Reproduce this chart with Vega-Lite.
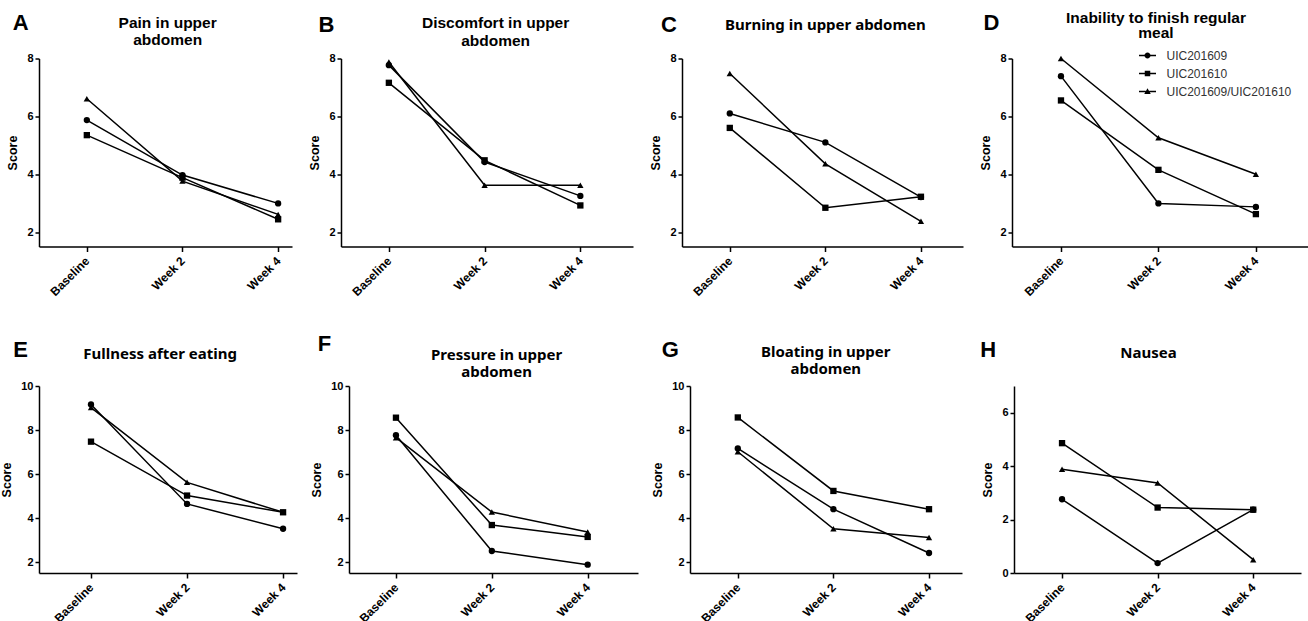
{
  "$schema": "https://vega.github.io/schema/vega-lite/v6.json",
  "padding": {"left": 0, "top": 10.5, "right": 0, "bottom": 0},
  "spacing": 33.5,
  "datasets": {
    "scores": [
      {"panel": "A", "series": "UIC201609", "week": 0, "score": 5.87},
      {"panel": "A", "series": "UIC201609", "week": 2, "score": 3.97},
      {"panel": "A", "series": "UIC201609", "week": 4, "score": 2.99},
      {"panel": "A", "series": "UIC201610", "week": 0, "score": 5.35},
      {"panel": "A", "series": "UIC201610", "week": 2, "score": 3.88},
      {"panel": "A", "series": "UIC201610", "week": 4, "score": 2.44},
      {"panel": "A", "series": "UIC201609/UIC201610", "week": 0, "score": 6.61},
      {"panel": "A", "series": "UIC201609/UIC201610", "week": 2, "score": 3.76},
      {"panel": "A", "series": "UIC201609/UIC201610", "week": 4, "score": 2.61},
      {"panel": "B", "series": "UIC201609", "week": 0, "score": 7.77},
      {"panel": "B", "series": "UIC201609", "week": 2, "score": 4.42},
      {"panel": "B", "series": "UIC201609", "week": 4, "score": 3.25},
      {"panel": "B", "series": "UIC201610", "week": 0, "score": 7.16},
      {"panel": "B", "series": "UIC201610", "week": 2, "score": 4.48},
      {"panel": "B", "series": "UIC201610", "week": 4, "score": 2.92},
      {"panel": "B", "series": "UIC201609/UIC201610", "week": 0, "score": 7.88},
      {"panel": "B", "series": "UIC201609/UIC201610", "week": 2, "score": 3.62},
      {"panel": "B", "series": "UIC201609/UIC201610", "week": 4, "score": 3.62},
      {"panel": "C", "series": "UIC201609", "week": 0, "score": 6.10},
      {"panel": "C", "series": "UIC201609", "week": 2, "score": 5.10},
      {"panel": "C", "series": "UIC201609", "week": 4, "score": 3.21},
      {"panel": "C", "series": "UIC201610", "week": 0, "score": 5.60},
      {"panel": "C", "series": "UIC201610", "week": 2, "score": 2.84},
      {"panel": "C", "series": "UIC201610", "week": 4, "score": 3.22},
      {"panel": "C", "series": "UIC201609/UIC201610", "week": 0, "score": 7.48},
      {"panel": "C", "series": "UIC201609/UIC201610", "week": 2, "score": 4.36},
      {"panel": "C", "series": "UIC201609/UIC201610", "week": 4, "score": 2.37},
      {"panel": "D", "series": "UIC201609", "week": 0, "score": 7.39},
      {"panel": "D", "series": "UIC201609", "week": 2, "score": 2.99},
      {"panel": "D", "series": "UIC201609", "week": 4, "score": 2.87},
      {"panel": "D", "series": "UIC201610", "week": 0, "score": 6.55},
      {"panel": "D", "series": "UIC201610", "week": 2, "score": 4.15},
      {"panel": "D", "series": "UIC201610", "week": 4, "score": 2.62},
      {"panel": "D", "series": "UIC201609/UIC201610", "week": 0, "score": 8.0},
      {"panel": "D", "series": "UIC201609/UIC201610", "week": 2, "score": 5.26},
      {"panel": "D", "series": "UIC201609/UIC201610", "week": 4, "score": 4.0},
      {"panel": "E", "series": "UIC201609", "week": 0, "score": 9.16},
      {"panel": "E", "series": "UIC201609", "week": 2, "score": 4.64},
      {"panel": "E", "series": "UIC201609", "week": 4, "score": 3.51},
      {"panel": "E", "series": "UIC201610", "week": 0, "score": 7.47},
      {"panel": "E", "series": "UIC201610", "week": 2, "score": 5.02},
      {"panel": "E", "series": "UIC201610", "week": 4, "score": 4.26},
      {"panel": "E", "series": "UIC201609/UIC201610", "week": 0, "score": 9.02},
      {"panel": "E", "series": "UIC201609/UIC201610", "week": 2, "score": 5.62},
      {"panel": "E", "series": "UIC201609/UIC201610", "week": 4, "score": 4.26},
      {"panel": "F", "series": "UIC201609", "week": 0, "score": 7.76},
      {"panel": "F", "series": "UIC201609", "week": 2, "score": 2.50},
      {"panel": "F", "series": "UIC201609", "week": 4, "score": 1.88},
      {"panel": "F", "series": "UIC201610", "week": 0, "score": 8.56},
      {"panel": "F", "series": "UIC201610", "week": 2, "score": 3.68},
      {"panel": "F", "series": "UIC201610", "week": 4, "score": 3.14},
      {"panel": "F", "series": "UIC201609/UIC201610", "week": 0, "score": 7.65},
      {"panel": "F", "series": "UIC201609/UIC201610", "week": 2, "score": 4.27},
      {"panel": "F", "series": "UIC201609/UIC201610", "week": 4, "score": 3.36},
      {"panel": "G", "series": "UIC201609", "week": 0, "score": 7.16},
      {"panel": "G", "series": "UIC201609", "week": 2, "score": 4.40},
      {"panel": "G", "series": "UIC201609", "week": 4, "score": 2.41},
      {"panel": "G", "series": "UIC201610", "week": 0, "score": 8.57},
      {"panel": "G", "series": "UIC201610", "week": 2, "score": 5.23},
      {"panel": "G", "series": "UIC201610", "week": 4, "score": 4.40},
      {"panel": "G", "series": "UIC201609/UIC201610", "week": 0, "score": 7.01},
      {"panel": "G", "series": "UIC201609/UIC201610", "week": 2, "score": 3.51},
      {"panel": "G", "series": "UIC201609/UIC201610", "week": 4, "score": 3.11},
      {"panel": "H", "series": "UIC201609", "week": 0, "score": 2.76},
      {"panel": "H", "series": "UIC201609", "week": 2, "score": 0.37},
      {"panel": "H", "series": "UIC201609", "week": 4, "score": 2.37},
      {"panel": "H", "series": "UIC201610", "week": 0, "score": 4.86},
      {"panel": "H", "series": "UIC201610", "week": 2, "score": 2.45},
      {"panel": "H", "series": "UIC201610", "week": 4, "score": 2.37},
      {"panel": "H", "series": "UIC201609/UIC201610", "week": 0, "score": 3.88},
      {"panel": "H", "series": "UIC201609/UIC201610", "week": 2, "score": 3.37},
      {"panel": "H", "series": "UIC201609/UIC201610", "week": 4, "score": 0.50}
    ],
    "labels": [
      {"panel": "A", "letter": "A", "heading": "Pain in upper\nabdomen"},
      {"panel": "B", "letter": "B", "heading": "Discomfort in upper\nabdomen"},
      {"panel": "C", "letter": "C", "heading": "Burning in upper abdomen"},
      {"panel": "D", "letter": "D", "heading": "Inability to finish regular\nmeal"},
      {"panel": "E", "letter": "E", "heading": "Fullness after eating"},
      {"panel": "F", "letter": "F", "heading": "Pressure in upper\nabdomen"},
      {"panel": "G", "letter": "G", "heading": "Bloating in upper\nabdomen"},
      {"panel": "H", "letter": "H", "heading": "Nausea"}
    ]
  },
  "config": {
    "view": {"stroke": null},
    "font": "Liberation Sans",
    "axis": {"domainColor": "black", "domainWidth": 1.5, "tickColor": "black", "tickWidth": 1.5, "tickSize": 4, "labelColor": "black", "labelFont": "Liberation Sans", "labelFontWeight": "bold", "labelFontSize": 11, "labelPadding": 2, "titleFont": "Liberation Sans", "titleFontWeight": "bold", "titleFontSize": 12.5, "titleColor": "black", "grid": false},
    "axisX": {"labelAngle": -45, "labelAlign": "right", "labelBaseline": "middle", "tickSize": 5, "labelPadding": 7, "labelFontSize": 12},
    "axisY": {"titlePadding": 7},
    "line": {"color": "black", "strokeWidth": 1.5},
    "point": {"filled": true, "color": "black", "size": 40, "opacity": 1},
    "text": {"color": "black", "baseline": "alphabetic"}
  },
  "vconcat": [
    {
      "bounds": "flush",
      "spacing": 49,
      "hconcat": [
        {
          "width": 253, "height": 188,
          "layer": [
            {"data": {"name": "scores"}, "transform": [{"filter": "datum.panel == 'A'"}], "mark": "line",
             "encoding": {"x": {"field": "week", "type": "quantitative", "scale": {"domain": [-1, 4.29], "nice": false, "zero": false}, "axis": {"values": [0, 2, 4], "labelExpr": "datum.value == 0 ? 'Baseline' : 'Week ' + datum.value", "title": null}}, "y": {"field": "score", "type": "quantitative", "scale": {"domain": [1.5, 8], "nice": false, "zero": false}, "axis": {"values": [2, 4, 6, 8], "title": "Score"}}, "detail": {"field": "series"}}},
            {"data": {"name": "scores"}, "transform": [{"filter": "datum.panel == 'A'"}], "mark": "point",
             "encoding": {"x": {"field": "week", "type": "quantitative"}, "y": {"field": "score", "type": "quantitative"}, "shape": {"field": "series", "type": "nominal", "scale": {"domain": ["UIC201609", "UIC201610", "UIC201609/UIC201610"], "range": ["circle", "square", "triangle-up"]}, "legend": null}}},
            {"data": {"name": "labels"}, "transform": [{"filter": "datum.panel == 'A'"}], "mark": {"type": "text", "font": "Liberation Sans", "fontSize": 22, "fontWeight": "bold", "align": "left"},
             "encoding": {"x": {"datum": -1.55}, "y": {"datum": 8.97}, "text": {"field": "letter"}}},
            {"data": {"name": "labels"}, "transform": [{"filter": "datum.panel == 'A'"}], "mark": {"type": "text", "font": "Liberation Sans", "fontSize": 15.5, "fontWeight": "bold", "align": "center", "lineBreak": "\n", "lineHeight": 17},
             "encoding": {"x": {"datum": 1.69}, "y": {"datum": 9.07}, "text": {"field": "heading"}}}
          ]
        },
        {
          "width": 292, "height": 188,
          "layer": [
            {"data": {"name": "scores"}, "transform": [{"filter": "datum.panel == 'B'"}], "mark": "line",
             "encoding": {"x": {"field": "week", "type": "quantitative", "scale": {"domain": [-1, 5.10], "nice": false, "zero": false}, "axis": {"values": [0, 2, 4], "labelExpr": "datum.value == 0 ? 'Baseline' : 'Week ' + datum.value", "title": null}}, "y": {"field": "score", "type": "quantitative", "scale": {"domain": [1.5, 8], "nice": false, "zero": false}, "axis": {"values": [2, 4, 6, 8], "title": "Score"}}, "detail": {"field": "series"}}},
            {"data": {"name": "scores"}, "transform": [{"filter": "datum.panel == 'B'"}], "mark": "point",
             "encoding": {"x": {"field": "week", "type": "quantitative"}, "y": {"field": "score", "type": "quantitative"}, "shape": {"field": "series", "type": "nominal", "scale": {"domain": ["UIC201609", "UIC201610", "UIC201609/UIC201610"], "range": ["circle", "square", "triangle-up"]}, "legend": null}}},
            {"data": {"name": "labels"}, "transform": [{"filter": "datum.panel == 'B'"}], "mark": {"type": "text", "font": "Liberation Sans", "fontSize": 22, "fontWeight": "bold", "align": "left"},
             "encoding": {"x": {"datum": -1.47}, "y": {"datum": 8.93}, "text": {"field": "letter"}}},
            {"data": {"name": "labels"}, "transform": [{"filter": "datum.panel == 'B'"}], "mark": {"type": "text", "font": "Liberation Sans", "fontSize": 15.5, "fontWeight": "bold", "align": "center", "lineBreak": "\n", "lineHeight": 18},
             "encoding": {"x": {"datum": 2.23}, "y": {"datum": 9.06}, "text": {"field": "heading"}}}
          ]
        },
        {
          "width": 281, "height": 188,
          "layer": [
            {"data": {"name": "scores"}, "transform": [{"filter": "datum.panel == 'C'"}], "mark": "line",
             "encoding": {"x": {"field": "week", "type": "quantitative", "scale": {"domain": [-1, 4.88], "nice": false, "zero": false}, "axis": {"values": [0, 2, 4], "labelExpr": "datum.value == 0 ? 'Baseline' : 'Week ' + datum.value", "title": null}}, "y": {"field": "score", "type": "quantitative", "scale": {"domain": [1.5, 8], "nice": false, "zero": false}, "axis": {"values": [2, 4, 6, 8], "title": "Score"}}, "detail": {"field": "series"}}},
            {"data": {"name": "scores"}, "transform": [{"filter": "datum.panel == 'C'"}], "mark": "point",
             "encoding": {"x": {"field": "week", "type": "quantitative"}, "y": {"field": "score", "type": "quantitative"}, "shape": {"field": "series", "type": "nominal", "scale": {"domain": ["UIC201609", "UIC201610", "UIC201609/UIC201610"], "range": ["circle", "square", "triangle-up"]}, "legend": null}}},
            {"data": {"name": "labels"}, "transform": [{"filter": "datum.panel == 'C'"}], "mark": {"type": "text", "font": "Liberation Sans", "fontSize": 22, "fontWeight": "bold", "align": "left"},
             "encoding": {"x": {"datum": -1.44}, "y": {"datum": 8.93}, "text": {"field": "letter"}}},
            {"data": {"name": "labels"}, "transform": [{"filter": "datum.panel == 'C'"}], "mark": {"type": "text", "font": "Noto Sans", "fontSize": 15, "fontWeight": "bold", "align": "center", "lineBreak": "\n", "lineHeight": 17},
             "encoding": {"x": {"datum": 2.0}, "y": {"datum": 9.0}, "text": {"field": "heading"}}}
          ]
        },
        {
          "width": 297, "height": 188,
          "resolve": {"scale": {"shape": "independent"}, "legend": {"shape": "independent"}},
          "layer": [
            {"data": {"name": "scores"}, "transform": [{"filter": "datum.panel == 'D'"}], "mark": "line",
             "encoding": {"x": {"field": "week", "type": "quantitative", "scale": {"domain": [-1.005, 5.09], "nice": false, "zero": false}, "axis": {"values": [0, 2, 4], "labelExpr": "datum.value == 0 ? 'Baseline' : 'Week ' + datum.value", "title": null}}, "y": {"field": "score", "type": "quantitative", "scale": {"domain": [1.5, 8], "nice": false, "zero": false}, "axis": {"values": [2, 4, 6, 8], "title": "Score"}}, "detail": {"field": "series"}}},
            {"data": {"name": "scores"}, "transform": [{"filter": "datum.panel == 'D'"}], "mark": "point",
             "encoding": {"x": {"field": "week", "type": "quantitative"}, "y": {"field": "score", "type": "quantitative"}, "shape": {"field": "series", "type": "nominal", "scale": {"domain": ["UIC201609", "UIC201610", "UIC201609/UIC201610"], "range": ["circle", "square", "triangle-up"]}, "legend": null}}},
            {"data": {"name": "scores"}, "transform": [{"filter": "datum.panel == 'D'"}],
             "mark": {"type": "point", "filled": true, "color": "black", "opacity": 0},
             "encoding": {"x": {"field": "week", "type": "quantitative"}, "y": {"field": "score", "type": "quantitative"},
               "shape": {"field": "series", "type": "nominal",
                 "scale": {"domain": ["UIC201609", "UIC201610", "UIC201609/UIC201610"], "range": [
                   "M-1.7,-0.15H-0.5V0.15H-1.7ZM0.5,-0.15H1.7V0.15H0.5ZM0.6,0A0.6,0.6,0,1,1,-0.6,0A0.6,0.6,0,1,1,0.6,0Z",
                   "M-1.7,-0.15H-0.5V0.15H-1.7ZM0.5,-0.15H1.7V0.15H0.5ZM-0.55,-0.55H0.55V0.55H-0.55Z",
                   "M-1.7,-0.15H-0.35V0.15H-1.7ZM0.35,-0.15H1.7V0.15H0.35ZM0,-0.65L0.65,0.5H-0.65Z"]},
                 "legend": {"title": null, "orient": "none", "legendX": 129.5, "legendY": -9, "symbolSize": 100, "symbolOpacity": 1, "symbolStrokeWidth": 0, "symbolFillColor": "black", "labelFont": "Liberation Sans", "labelFontSize": 12, "labelFontWeight": "normal", "labelColor": "#333333", "labelOffset": 13, "rowPadding": 6}}}},
            {"data": {"name": "labels"}, "transform": [{"filter": "datum.panel == 'D'"}], "mark": {"type": "text", "font": "Liberation Sans", "fontSize": 22, "fontWeight": "bold", "align": "left"},
             "encoding": {"x": {"datum": -1.59}, "y": {"datum": 9.0}, "text": {"field": "letter"}}},
            {"data": {"name": "labels"}, "transform": [{"filter": "datum.panel == 'D'"}], "mark": {"type": "text", "font": "Liberation Sans", "fontSize": 15.5, "fontWeight": "bold", "align": "center", "lineBreak": "\n", "lineHeight": 15},
             "encoding": {"x": {"datum": 1.95}, "y": {"datum": 9.23}, "text": {"field": "heading"}}}
          ]
        }
      ]
    },
    {
      "bounds": "flush",
      "spacing": 52,
      "hconcat": [
        {
          "width": 258, "height": 187,
          "layer": [
            {"data": {"name": "scores"}, "transform": [{"filter": "datum.panel == 'E'"}], "mark": "line",
             "encoding": {"x": {"field": "week", "type": "quantitative", "scale": {"domain": [-1.083, 4.29], "nice": false, "zero": false}, "axis": {"values": [0, 2, 4], "labelExpr": "datum.value == 0 ? 'Baseline' : 'Week ' + datum.value", "title": null}}, "y": {"field": "score", "type": "quantitative", "scale": {"domain": [1.5, 10], "nice": false, "zero": false}, "axis": {"values": [2, 4, 6, 8, 10], "title": "Score"}}, "detail": {"field": "series"}}},
            {"data": {"name": "scores"}, "transform": [{"filter": "datum.panel == 'E'"}], "mark": "point",
             "encoding": {"x": {"field": "week", "type": "quantitative"}, "y": {"field": "score", "type": "quantitative"}, "shape": {"field": "series", "type": "nominal", "scale": {"domain": ["UIC201609", "UIC201610", "UIC201609/UIC201610"], "range": ["circle", "square", "triangle-up"]}, "legend": null}}},
            {"data": {"name": "labels"}, "transform": [{"filter": "datum.panel == 'E'"}], "mark": {"type": "text", "font": "Liberation Sans", "fontSize": 22, "fontWeight": "bold", "align": "left"},
             "encoding": {"x": {"datum": -1.62}, "y": {"datum": 11.30}, "text": {"field": "letter"}}},
            {"data": {"name": "labels"}, "transform": [{"filter": "datum.panel == 'E'"}], "mark": {"type": "text", "font": "Noto Sans", "fontSize": 15, "fontWeight": "bold", "align": "center", "lineBreak": "\n", "lineHeight": 17},
             "encoding": {"x": {"datum": 1.44}, "y": {"datum": 11.25}, "text": {"field": "heading"}}}
          ]
        },
        {
          "width": 289, "height": 187,
          "layer": [
            {"data": {"name": "scores"}, "transform": [{"filter": "datum.panel == 'F'"}], "mark": "line",
             "encoding": {"x": {"field": "week", "type": "quantitative", "scale": {"domain": [-0.98, 5.05], "nice": false, "zero": false}, "axis": {"values": [0, 2, 4], "labelExpr": "datum.value == 0 ? 'Baseline' : 'Week ' + datum.value", "title": null}}, "y": {"field": "score", "type": "quantitative", "scale": {"domain": [1.5, 10], "nice": false, "zero": false}, "axis": {"values": [2, 4, 6, 8, 10], "title": "Score"}}, "detail": {"field": "series"}}},
            {"data": {"name": "scores"}, "transform": [{"filter": "datum.panel == 'F'"}], "mark": "point",
             "encoding": {"x": {"field": "week", "type": "quantitative"}, "y": {"field": "score", "type": "quantitative"}, "shape": {"field": "series", "type": "nominal", "scale": {"domain": ["UIC201609", "UIC201610", "UIC201609/UIC201610"], "range": ["circle", "square", "triangle-up"]}, "legend": null}}},
            {"data": {"name": "labels"}, "transform": [{"filter": "datum.panel == 'F'"}], "mark": {"type": "text", "font": "Liberation Sans", "fontSize": 22, "fontWeight": "bold", "align": "left"},
             "encoding": {"x": {"datum": -1.63}, "y": {"datum": 11.61}, "text": {"field": "letter"}}},
            {"data": {"name": "labels"}, "transform": [{"filter": "datum.panel == 'F'"}], "mark": {"type": "text", "font": "Noto Sans", "fontSize": 15, "fontWeight": "bold", "align": "center", "lineBreak": "\n", "lineHeight": 17},
             "encoding": {"x": {"datum": 2.1}, "y": {"datum": 11.16}, "text": {"field": "heading"}}}
          ]
        },
        {
          "width": 272, "height": 187,
          "layer": [
            {"data": {"name": "scores"}, "transform": [{"filter": "datum.panel == 'G'"}], "mark": "line",
             "encoding": {"x": {"field": "week", "type": "quantitative", "scale": {"domain": [-1, 4.69], "nice": false, "zero": false}, "axis": {"values": [0, 2, 4], "labelExpr": "datum.value == 0 ? 'Baseline' : 'Week ' + datum.value", "title": null}}, "y": {"field": "score", "type": "quantitative", "scale": {"domain": [1.5, 10], "nice": false, "zero": false}, "axis": {"values": [2, 4, 6, 8, 10], "title": "Score"}}, "detail": {"field": "series"}}},
            {"data": {"name": "scores"}, "transform": [{"filter": "datum.panel == 'G'"}], "mark": "point",
             "encoding": {"x": {"field": "week", "type": "quantitative"}, "y": {"field": "score", "type": "quantitative"}, "shape": {"field": "series", "type": "nominal", "scale": {"domain": ["UIC201609", "UIC201610", "UIC201609/UIC201610"], "range": ["circle", "square", "triangle-up"]}, "legend": null}}},
            {"data": {"name": "labels"}, "transform": [{"filter": "datum.panel == 'G'"}], "mark": {"type": "text", "font": "Liberation Sans", "fontSize": 22, "fontWeight": "bold", "align": "left"},
             "encoding": {"x": {"datum": -1.59}, "y": {"datum": 11.30}, "text": {"field": "letter"}}},
            {"data": {"name": "labels"}, "transform": [{"filter": "datum.panel == 'G'"}], "mark": {"type": "text", "font": "Noto Sans", "fontSize": 15, "fontWeight": "bold", "align": "center", "lineBreak": "\n", "lineHeight": 17},
             "encoding": {"x": {"datum": 1.84}, "y": {"datum": 11.31}, "text": {"field": "heading"}}}
          ]
        },
        {
          "width": 287, "height": 187,
          "layer": [
            {"data": {"name": "scores"}, "transform": [{"filter": "datum.panel == 'H'"}], "mark": "line",
             "encoding": {"x": {"field": "week", "type": "quantitative", "scale": {"domain": [-1.005, 5.0], "nice": false, "zero": false}, "axis": {"values": [0, 2, 4], "labelExpr": "datum.value == 0 ? 'Baseline' : 'Week ' + datum.value", "title": null}}, "y": {"field": "score", "type": "quantitative", "scale": {"domain": [0, 7], "nice": false, "zero": false}, "axis": {"values": [0, 2, 4, 6], "title": "Score"}}, "detail": {"field": "series"}}},
            {"data": {"name": "scores"}, "transform": [{"filter": "datum.panel == 'H'"}], "mark": "point",
             "encoding": {"x": {"field": "week", "type": "quantitative"}, "y": {"field": "score", "type": "quantitative"}, "shape": {"field": "series", "type": "nominal", "scale": {"domain": ["UIC201609", "UIC201610", "UIC201609/UIC201610"], "range": ["circle", "square", "triangle-up"]}, "legend": null}}},
            {"data": {"name": "labels"}, "transform": [{"filter": "datum.panel == 'H'"}], "mark": {"type": "text", "font": "Liberation Sans", "fontSize": 22, "fontWeight": "bold", "align": "left"},
             "encoding": {"x": {"datum": -1.71}, "y": {"datum": 8.07}, "text": {"field": "letter"}}},
            {"data": {"name": "labels"}, "transform": [{"filter": "datum.panel == 'H'"}], "mark": {"type": "text", "font": "Noto Sans", "fontSize": 15, "fontWeight": "bold", "align": "center", "lineBreak": "\n", "lineHeight": 17},
             "encoding": {"x": {"datum": 1.81}, "y": {"datum": 8.03}, "text": {"field": "heading"}}}
          ]
        }
      ]
    }
  ]
}
